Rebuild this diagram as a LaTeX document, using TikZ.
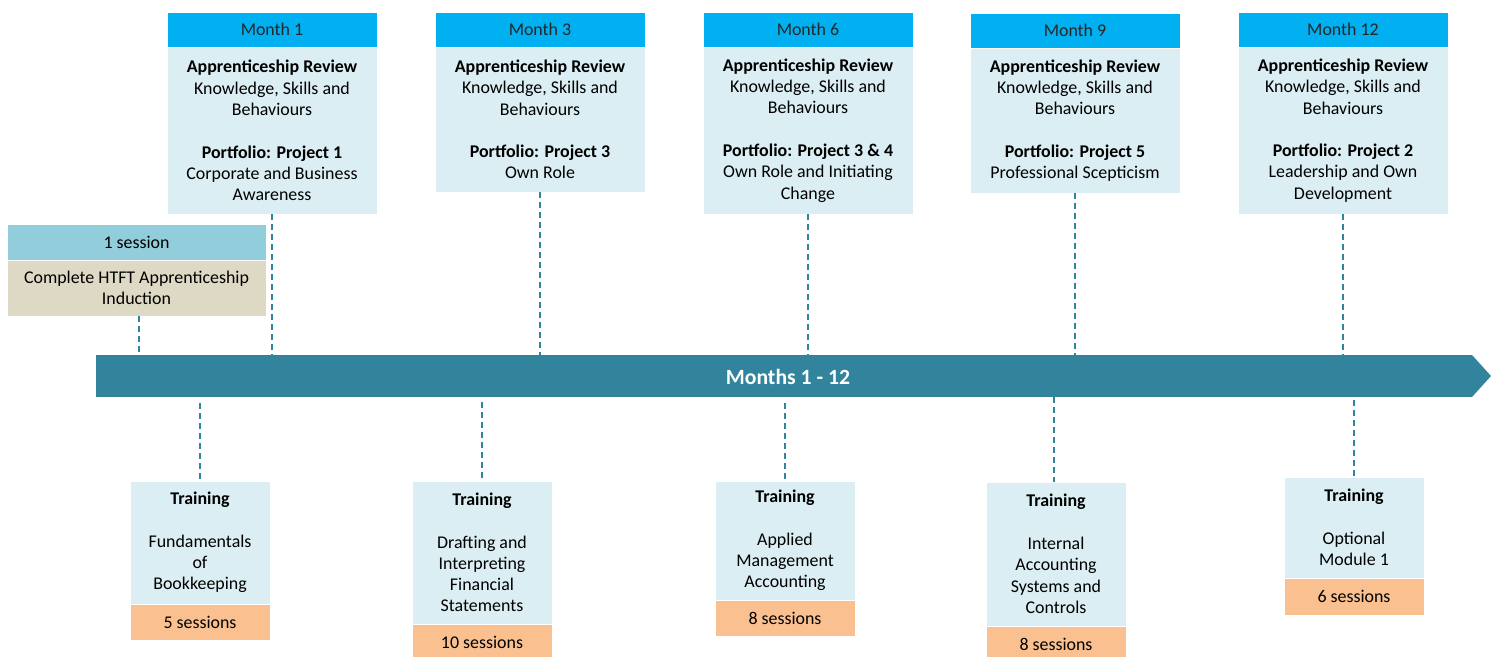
\documentclass[tikz,border=0pt]{standalone}
\usepackage{fontspec}
\setmainfont{Carlito}
\definecolor{hdr}{HTML}{00B0F0}
\definecolor{lite}{HTML}{DBEEF3}
\definecolor{indtop}{HTML}{92CDDC}
\definecolor{indbot}{HTML}{DDD9C4}
\definecolor{tline}{HTML}{31849B}
\definecolor{orng}{HTML}{FAC090}
\begin{document}
\begin{tikzpicture}[x=1pt,y=-1pt,
  box/.style={inner sep=0pt, outer sep=0pt, align=center, anchor=north west,
    font=\fontsize{17.9}{21.3}\selectfont, text=black, draw=white, line width=0.6pt},
  hdrbox/.style={box, fill=hdr, minimum width=210pt, minimum height=35pt, text={black!85}},
  bodybox/.style={box, fill=lite, minimum width=210pt},
  trbox/.style={box, fill=lite, minimum width=140pt},
  sesbox/.style={box, fill=orng, minimum width=140pt, minimum height=36pt},
  conn/.style={draw=tline, line width=1.7pt, dash pattern=on 6pt off 4pt}
]
\useasboundingbox (0,0) rectangle (1499,656);

% top review boxes
\node[hdrbox] (h1) at (167,12) {Month 1};
\node[bodybox, minimum height=167pt] (b1) at (h1.south west) {\textbf{Apprenticeship Review}\\Knowledge, Skills and\\Behaviours\\[21.3pt]\textbf{Portfolio: Project 1}\\Corporate and Business\\Awareness};
\node[hdrbox] (h3) at (435,12) {Month 3};
\node[bodybox, minimum height=145pt] (b3) at (h3.south west) {\textbf{Apprenticeship Review}\\Knowledge, Skills and\\Behaviours\\[21.3pt]\textbf{Portfolio: Project 3}\\Own Role};
\node[hdrbox] (h6) at (703,12) {Month 6};
\node[bodybox, minimum height=167pt] (b6) at (h6.south west) {\textbf{Apprenticeship Review}\\Knowledge, Skills and\\Behaviours\\[21.3pt]\textbf{Portfolio: Project 3 \& 4}\\Own Role and Initiating\\Change};
\node[hdrbox] (h9) at (970,13) {Month 9};
\node[bodybox, minimum height=145pt] (b9) at (h9.south west) {\textbf{Apprenticeship Review}\\Knowledge, Skills and\\Behaviours\\[21.3pt]\textbf{Portfolio: Project 5}\\Professional Scepticism};
\node[hdrbox] (h12) at (1238,12) {Month 12};
\node[bodybox, minimum height=167pt] (b12) at (h12.south west) {\textbf{Apprenticeship Review}\\Knowledge, Skills and\\Behaviours\\[21.3pt]\textbf{Portfolio: Project 2}\\Leadership and Own\\Development};

% induction
\node[box, fill=indtop, minimum width=259pt, minimum height=36pt] (i1) at (7,224) {1 session};
\node[box, fill=indbot, minimum width=259pt, minimum height=56pt] (i2) at (i1.south west) {Complete HTFT Apprenticeship\\Induction};

% timeline
\node[inner sep=0pt, outer sep=0pt, anchor=north west, fill=tline, minimum width=1376pt, minimum height=42pt] (tl) at (96,355) {};
\fill[tline] (tl.north east) -- ++(19,21) -- (tl.south east) -- cycle;
\node[font=\fontsize{21.7}{26}\selectfont\bfseries, text=white, inner sep=0pt] (tlab) at (788,377) {Months 1 - 12};

% training boxes
\node[trbox, minimum height=123pt] (t1) at (130,481) {\textbf{Training}\\[21.3pt]Fundamentals\\of\\Bookkeeping};
\node[sesbox] (s1) at (t1.south west) {5 sessions};
\node[trbox, minimum height=143pt] (t2) at (412,481) {\textbf{Training}\\[21.3pt]Drafting and\\Interpreting\\Financial\\Statements};
\node[sesbox] (s2) at (t2.south west) {10 sessions};
\node[trbox, minimum height=119pt] (t3) at (715,481) {\textbf{Training}\\[21.3pt]Applied\\Management\\Accounting};
\node[sesbox] (s3) at (t3.south west) {8 sessions};
\node[trbox, minimum height=144pt] (t4) at (986,482) {\textbf{Training}\\[21.3pt]Internal\\Accounting\\Systems and\\Controls};
\node[sesbox] (s4) at (t4.south west) {8 sessions};
\node[trbox, minimum height=101pt] (t5) at (1284,477) {\textbf{Training}\\[21.3pt]Optional\\Module 1};
\node[sesbox, minimum height=37pt] (s5) at (t5.south west) {6 sessions};

% connectors above the timeline
\draw[conn] ([xshift=2.5pt]i2.south) -- ([xshift=2.5pt]i2.south |- tl.north);
\draw[conn] (b1.south) -- (b1.south |- tl.north);
\draw[conn] (b3.south) -- (b3.south |- tl.north);
\draw[conn] (b6.south) -- (b6.south |- tl.north);
\draw[conn] (b9.south) -- (b9.south |- tl.north);
\draw[conn] (b12.south) -- (b12.south |- tl.north);

% connectors below the timeline
\draw[conn] ([yshift=-6pt]t1.north |- tl.south) -- (t1.north);
\draw[conn] ([yshift=-5pt]t2.north |- tl.south) -- (t2.north);
\draw[conn] ([yshift=-6pt]t3.north |- tl.south) -- (t3.north);
\draw[conn] ([xshift=-2pt]t4.north |- tl.south) -- ([xshift=-2pt]t4.north);
\draw[conn] ([yshift=-3pt]t5.north |- tl.south) -- (t5.north);
\end{tikzpicture}
\end{document}
